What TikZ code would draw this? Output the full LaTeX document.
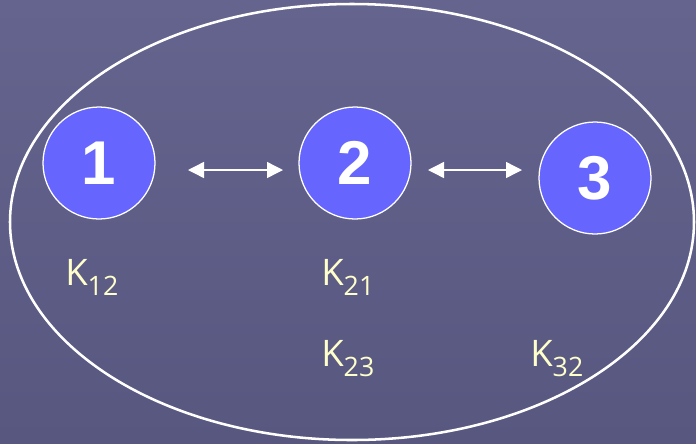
\documentclass[tikz,border=0pt]{standalone}
\usepackage{fontspec}
\setmainfont{Liberation Sans}
\newfontfamily\kfont{Open Sans}
\usetikzlibrary{arrows.meta}
\definecolor{sfondo}{HTML}{64648E}
\definecolor{sfondoscuro}{HTML}{575780}
\definecolor{nodo}{HTML}{6666FF}
\definecolor{giallo}{HTML}{FFFFCC}
\newcommand{\pedice}[1]{\raisebox{-0.3em}{\fontsize{19}{19}\selectfont #1}}
\begin{document}
\begin{tikzpicture}[x=0.025cm,y=-0.025cm,
  stato/.style={circle,draw=white,line width=0.9pt,fill=nodo,minimum size=112*0.025cm,
    inner sep=0pt,text=white,font=\fontsize{44}{44}\selectfont\bfseries},
  costante/.style={anchor=base west,inner sep=0pt,text=giallo,font=\kfont\fontsize{26}{26}\selectfont},
  freccia/.style={white,line width=1pt,{Triangle[length=4mm,width=4mm]}-{Triangle[length=4mm,width=4mm]}}]
\shade[left color=sfondo,right color=sfondoscuro,shading angle=0] (0,0) rectangle (696,443);
\useasboundingbox (0,0) rectangle (696,443);
\draw[white,line width=1.8pt] (352,222) ellipse [x radius=342,y radius=218];
\node[stato] (s1) at (99,163) {1};
\node[stato] (s2) at (355,163) {2};
\node[stato] (s3) at (595,178) {3};
\coordinate (a1) at (188,170);
\coordinate (b1) at (283,170);
\coordinate (a2) at (428,170);
\coordinate (b2) at (522,170);
\draw[freccia] (a1) -- (b1);
\draw[freccia] (a2) -- (b2);
\node[costante] (k12) at (65,285) {K\pedice{12}};
\node[costante] (k21) at (321,285) {K\pedice{21}};
\node[costante] (k23) at (321,366) {K\pedice{23}};
\node[costante] (k32) at (530,366) {K\pedice{32}};
\end{tikzpicture}
\end{document}
